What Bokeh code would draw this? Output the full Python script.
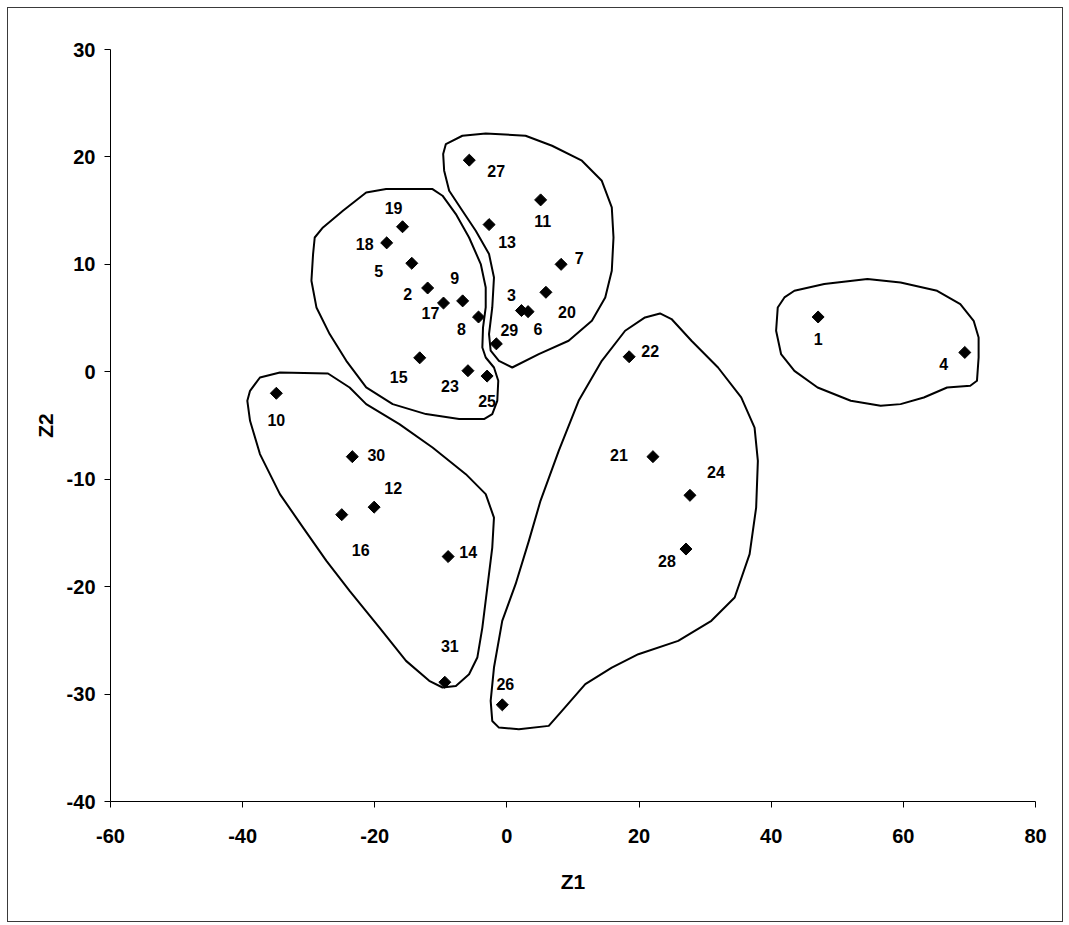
import math
from bokeh.plotting import figure
from bokeh.models import Range1d, FixedTicker, ColumnDataSource
from bokeh.core.properties import value
from bokeh.embed import file_html
from bokeh.resources import INLINE

# ---------------- data ----------------
point_ids = [str(i) for i in range(1, 32)]
z1 = [47.1, -12.0, 2.2, 69.3, -14.4, 3.2, 8.2, -4.3, -6.7, -34.9,
      5.1, -20.1, -2.7, -8.9, -13.2, -25.0, -9.6, -18.2, -15.8, 5.9,
      22.1, 18.5, -5.9, 27.7, -3.0, -0.7, -5.7, 27.1, -1.6, -23.4, -9.4]
z2 = [5.1, 7.8, 5.7, 1.8, 10.1, 5.6, 10.0, 5.1, 6.6, -2.0,
      16.0, -12.6, 13.7, -17.2, 1.3, -13.3, 6.4, 12.0, 13.5, 7.4,
      -7.9, 1.4, 0.1, -11.5, -0.4, -31.0, 19.7, -16.5, 2.6, -7.9, -28.9]

x_ticks = [-60, -40, -20, 0, 20, 40, 60, 80]
y_ticks = [-40, -30, -20, -10, 0, 10, 20, 30]

# hand-drawn cluster boundaries (Z1, Z2 units)
cluster_a_z1 = [-29.09, -27.84, -24.82, -21.30, -18.28, -11.26, -9.75, -7.73, -5.73, -3.96,
                -3.21, -3.21, -3.62, -3.72, -3.21, -1.96, -1.31, -1.46, -2.22, -3.47,
                -7.23, -12.25, -17.29, -21.30, -24.31, -26.83, -28.83, -29.59, -29.34]
cluster_a_z2 = [12.50, 13.44, 14.99, 16.69, 17.01, 17.01, 16.39, 14.68, 12.50, 10.03,
                7.85, 5.99, 4.12, 2.26, 1.33, 0.40, -0.84, -2.70, -3.94, -4.40,
                -4.40, -3.94, -3.01, -1.46, 1.02, 3.51, 5.99, 8.47, 10.96]

cluster_b_z1 = [-9.24, -6.74, -3.21, 2.82, 6.83, 11.35, 14.36, 15.87, 16.13, 15.87,
                14.88, 12.86, 9.34, 4.82, 0.80, -1.21, -2.46, -2.71, -2.22, -1.96,
                -2.71, -4.72, -6.74, -8.74, -9.50, -9.65]
cluster_b_z2 = [21.20, 21.97, 22.19, 21.97, 21.04, 19.65, 17.78, 15.30, 12.50, 9.40,
                6.92, 4.75, 2.89, 1.65, 0.40, 1.02, 1.96, 3.51, 5.99, 8.78,
                10.96, 13.13, 14.99, 16.85, 18.72, 20.27]

cluster_c_z1 = [-38.88, -37.38, -34.36, -27.08, -23.81, -21.30, -16.28, -11.26, -6.22, -3.21,
                -1.96, -2.22, -2.97, -3.72, -4.48, -5.73, -7.73, -9.75, -11.76, -15.27,
                -19.29, -23.81, -27.32, -30.85, -34.36, -37.38, -38.88, -39.29]
cluster_c_z2 = [-1.77, -0.53, -0.07, -0.16, -1.46, -3.01, -4.87, -7.05, -9.53, -11.39,
                -13.57, -16.36, -20.08, -23.81, -26.60, -28.15, -29.24, -29.39, -28.77, -26.91,
                -23.81, -20.39, -17.60, -14.50, -11.39, -7.66, -4.56, -2.70]

cluster_d_z1 = [-2.22, -2.46, -1.96, -0.71, 1.31, 3.32, 5.08, 7.84, 10.85, 14.36,
                17.89, 20.90, 23.17, 24.91, 27.93, 31.95, 35.46, 37.48, 37.98, 37.72,
                36.73, 34.47, 30.94, 25.92, 19.89, 15.87, 11.86, 8.33, 6.33, 1.81, -1.21]
cluster_d_z2 = [-32.50, -30.63, -27.53, -23.18, -19.77, -15.74, -12.01, -7.36, -2.70, 1.02,
                3.82, 5.06, 5.43, 4.91, 2.89, 0.40, -2.39, -5.19, -8.29, -12.64,
                -16.97, -21.01, -23.18, -25.05, -26.29, -27.53, -29.08, -31.56, -32.96, -33.27, -33.12]

cluster_e_z1 = [40.99, 42.00, 43.51, 48.03, 54.56, 59.58, 65.11, 68.62, 70.64, 71.39,
                71.39, 71.14, 70.13, 66.62, 63.10, 59.58, 56.56, 52.04, 47.02, 43.51,
                41.49, 40.74]
cluster_e_z2 = [5.99, 6.92, 7.54, 8.17, 8.63, 8.31, 7.54, 6.30, 4.75, 3.19,
                1.33, -0.84, -1.30, -1.46, -2.39, -3.01, -3.17, -2.70, -1.46, 0.09,
                1.65, 3.82]

# ---------------- layout of point labels (screen px, +down) ----------------
label_dx = [0, -20, -10, -21, -33, 10, 18, -17, -8, 0,
            2, 19, 18, 20, -21, 19, -13, -22, -9, 21,
            -34, 21, -18, 26, 0, 3, 27, -19, 13, 24, 5]
label_dy = [22, 6, -16, 12, 8, 17, -6, 12, -23, 27,
            21, -19, 17, -5, 19, 35, 10, 1, -19, 20,
            -2, -6, 15, -23, 25, -21, 11, 12, -14, -2, -36]

FONT = "Liberation Sans"

p = figure(width=1056, height=915,
           x_range=Range1d(-60, 80), y_range=Range1d(-40, 30),
           output_backend="svg", toolbar_location=None,
           min_border_left=102, min_border_right=29,
           min_border_top=41, min_border_bottom=122)
p.styles = {"border": "1px solid #3a3a3a", "margin-left": "7px", "margin-top": "7px"}
p.outline_line_color = None
p.xgrid.grid_line_color = None
p.ygrid.grid_line_color = None
p.background_fill_color = "white"
p.border_fill_color = "white"

for ax, ticks in ((p.xaxis, x_ticks), (p.yaxis, y_ticks)):
    ax.ticker = FixedTicker(ticks=ticks)
    ax.major_label_overrides = {t: str(t) for t in ticks}
    ax.minor_tick_line_color = None
    ax.major_tick_in = 0
    ax.major_tick_out = 6
    ax.axis_line_color = "black"
    ax.major_tick_line_color = "black"
    ax.major_label_text_font = FONT
    ax.major_label_text_font_style = "bold"
    ax.major_label_text_font_size = "20px"
    ax.major_label_text_color = "black"
    ax.axis_label_text_font = FONT
    ax.axis_label_text_font_style = "bold"
    ax.axis_label_text_font_size = "21px"
    ax.axis_label_text_color = "black"

p.xaxis.axis_label = "Z1"
p.yaxis.axis_label = "Z2"
p.xaxis.major_label_standoff = 21
p.yaxis.major_label_standoff = 9
p.xaxis.axis_label_standoff = 24
p.yaxis.axis_label_standoff = 7

p.patches(xs=[cluster_a_z1, cluster_b_z1, cluster_c_z1, cluster_d_z1, cluster_e_z1],
          ys=[cluster_a_z2, cluster_b_z2, cluster_c_z2, cluster_d_z2, cluster_e_z2],
          fill_color=None, line_color="black", line_width=2, line_join="round")

src = ColumnDataSource(dict(x=z1, y=z2, label=point_ids, dx=label_dx, dy=label_dy))
p.scatter("x", "y", source=src, marker="square", angle=math.pi / 4, size=8.5,
          fill_color="black", line_color="black")
p.text("x", "y", text="label", source=src, x_offset="dx", y_offset="dy",
       text_font=value(FONT), text_font_style="bold", text_font_size="16px",
       text_align="center", text_baseline="middle", text_color="black")

open("out.html", "w").write(file_html(p, INLINE))
